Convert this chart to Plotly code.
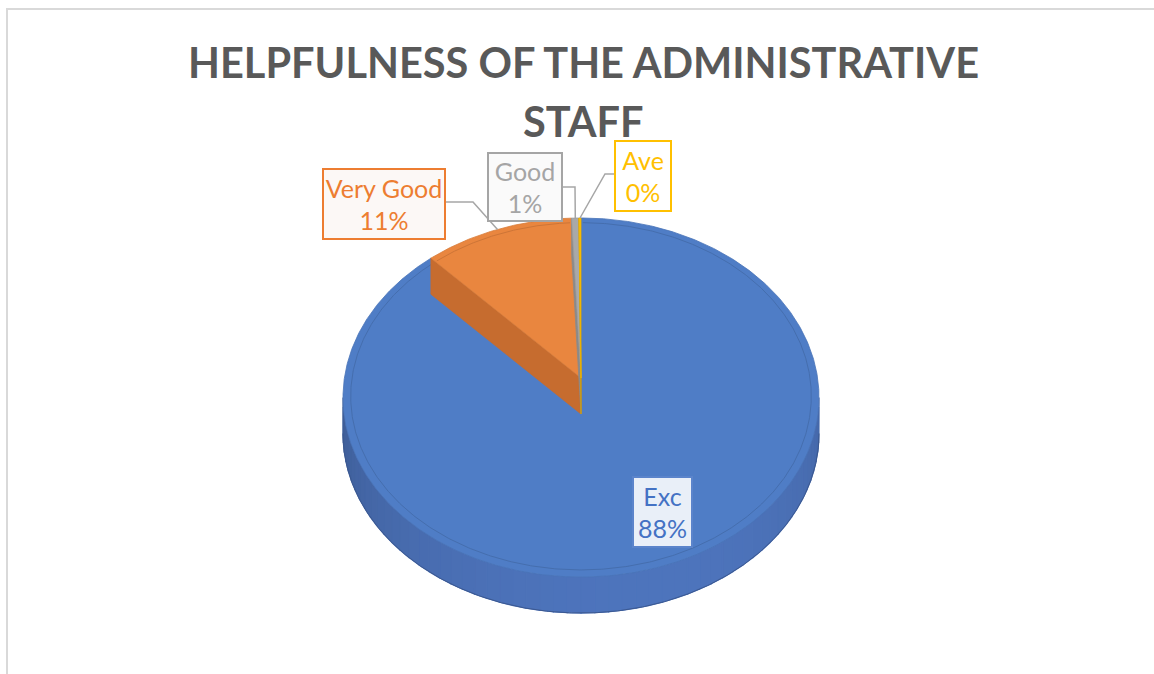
import numpy as np
import plotly.graph_objects as go

# ---- data ----
categories = ["Exc", "Very Good", "Good", "Ave"]
values = [88.0, 11.3, 0.55, 0.15]
title_lines = ["HELPFULNESS OF THE ADMINISTRATIVE", "STAFF"]

# ---- styles ----
top_colors = ["#4F7DC6", "#E9863F", "#A9A9A9", "#FFC000"]
side_colors = ["#4A6FB4", "#C96E31", "#8E8E8E", "#D9A300"]
wall_colors = ["#40629F", "#C66C2F", "#8A8A8A", "#D4A000"]
text_colors = ["#4472C4", "#ED7D31", "#A5A5A5", "#FFC000"]
box_fill = ["rgba(255,255,255,0.88)", "#FCF8F6", "#FAFAFA", "#FFFFFF"]
box_border = ["#5B84CB", "#ED7D31", "#A5A5A5", "#FFC000"]
# label box layout (center x, center y, width, height) and leader elbows, in pixels
label_boxes = [(662.5, 512, 61, 72), (384, 204, 124, 72), (525, 187, 76, 70), (643, 176, 58, 72)]
leader_start = [None, (446, 202), (563, 187), (614, 174)]
leader_elbow = [None, (473, 202), (575, 187), (605, 174)]
title_y = [62, 121]

# ---- 3D-pie projection (pixel space) ----
W, H = 1154, 674
CX, CY = 581.0, 378.0
R, A, K = 236.6, 177.4, 0.1087
DEPTH = 36.0


def proj(theta_deg, r=1.0, z=0.0):
    t = np.radians(np.asarray(theta_deg, dtype=float))
    X = r * np.sin(t)
    Y = -r * np.cos(t)
    s = 1.0 / (1.0 - K * Y)
    return CX + R * X * s, CY + A * Y * s + z


def arc(t1, t2, r=1.0, z=0.0, n=None):
    if n is None:
        n = max(2, int(abs(t2 - t1) * 2) + 2)
    th = np.linspace(t1, t2, n)
    return proj(th, r, z)


def shade(hex_color, f):
    h = hex_color.lstrip("#")
    rgb = [int(h[i:i + 2], 16) for i in (0, 2, 4)]
    rgb = [max(0, min(255, int(c * f))) for c in rgb]
    return "rgb(%d,%d,%d)" % tuple(rgb)


fig = go.Figure()


def poly(xs, ys, fill, line=None, lw=0.6):
    fig.add_trace(go.Scatter(
        x=list(xs) + [xs[0]], y=list(ys) + [ys[0]], mode="lines", fill="toself",
        fillcolor=fill, line=dict(color=line or fill, width=lw),
        hoverinfo="skip", showlegend=False))


total = float(sum(values))
angles = np.concatenate([[0.0], np.cumsum(values) / total * 360.0])
sil = np.degrees(np.arccos(-K))  # silhouette angle
sil_a, sil_b = sil, 360.0 - sil

for i, cat in enumerate(categories):
    t1, t2 = angles[i], angles[i + 1]
    # outer side (visible part only) with simple shading strips
    a, b = max(t1, sil_a), min(t2, sil_b)
    if b > a:
        edges = np.linspace(a, b, max(2, int((b - a) / 3) + 2))
        for e1, e2 in zip(edges[:-1], edges[1:]):
            tm = np.radians((e1 + e2) / 2)
            Y = -np.cos(tm)
            Xn = np.sin(tm)
            f = 0.80 + 0.16 * Y + 0.04 * Xn
            col = shade(side_colors[i], f / 0.92)
            xt, yt = arc(e1, e2, n=6)
            xb, yb = arc(e2, e1, z=DEPTH, n=6)
            poly(np.concatenate([xt, xb]), np.concatenate([yt, yb]), col, lw=1.2)
        xb, yb = arc(a, b, z=DEPTH)
        fig.add_trace(go.Scatter(x=xb, y=yb, mode="lines", line=dict(color=shade(side_colors[i], 0.8), width=1),
                                 hoverinfo="skip", showlegend=False))
    # radial walls facing viewer
    if i > 0 and -np.sin(np.radians(t1)) > 0:
        xr, yr = proj(t1)
        poly([CX, xr, xr, CX], [CY, yr, yr + DEPTH, CY + DEPTH], wall_colors[i], lw=0.8)
    if np.sin(np.radians(t2)) > 0.02:
        xr, yr = proj(t2)
        poly([CX, xr, xr, CX], [CY, yr, yr + DEPTH, CY + DEPTH], wall_colors[i], lw=0.8)
    # top face
    xt, yt = arc(t1, t2)
    poly(np.concatenate([[CX], xt]), np.concatenate([[CY], yt]), top_colors[i],
         line=shade(top_colors[i], 0.93), lw=0.8)
    # bevel line
    if t2 - t1 > 5:
        xi, yi = arc(t1 + 0.5, t2 - 0.5, r=0.968)
        fig.add_trace(go.Scatter(x=xi, y=yi, mode="lines", line=dict(color=shade(top_colors[i], 0.88), width=1),
                                 hoverinfo="skip", showlegend=False))

# ---- labels and leader lines ----
annotations = []
for line_text, ty in zip(title_lines, title_y):
    annotations.append(dict(
        x=583, y=ty, xref="x", yref="y", xanchor="center", yanchor="middle",
        text=f"<b>{line_text}</b>", showarrow=False,
        font=dict(family="Lato", size=41.5, color="#595959")))

shapes = [dict(type="rect", xref="x", yref="y", x0=7, y0=9, x1=W + 20, y1=H + 20,
               line=dict(color="#D9D9D9", width=2), fillcolor="rgba(0,0,0,0)", layer="below")]
for i, cat in enumerate(categories):
    pct = int(round(values[i] / total * 100))
    bx, by, bw, bh = label_boxes[i]
    annotations.append(dict(
        x=bx, y=by, xref="x", yref="y", xanchor="center", yanchor="middle",
        text=f"{cat}<br>{pct}%", showarrow=False, align="center",
        font=dict(family="Lato", size=25, color=text_colors[i]),
        bgcolor=box_fill[i], bordercolor=box_border[i], borderwidth=2, borderpad=0,
        width=bw - 4, height=bh - 4))
    if leader_start[i] is not None:
        mid = (angles[i] + angles[i + 1]) / 2
        ex, ey = proj(mid)
        (sx, sy), (mx, my) = leader_start[i], leader_elbow[i]
        shapes.append(dict(type="path", xref="x", yref="y",
                           path=f"M {sx},{sy} L {mx},{my} L {ex:.1f},{ey:.1f}",
                           line=dict(color="#A6A6A6", width=1.5)))

fig.update_layout(
    width=W, height=H,
    margin=dict(l=0, r=0, t=0, b=0),
    paper_bgcolor="white", plot_bgcolor="white",
    xaxis=dict(range=[0, W], visible=False, fixedrange=True),
    yaxis=dict(range=[H, 0], visible=False, fixedrange=True),
    annotations=annotations, shapes=shapes,
    showlegend=False,
)

fig.write_html("out.html", config={"displayModeBar": False},
               post_script="document.body.style.margin='0';document.body.style.overflow='hidden';")
